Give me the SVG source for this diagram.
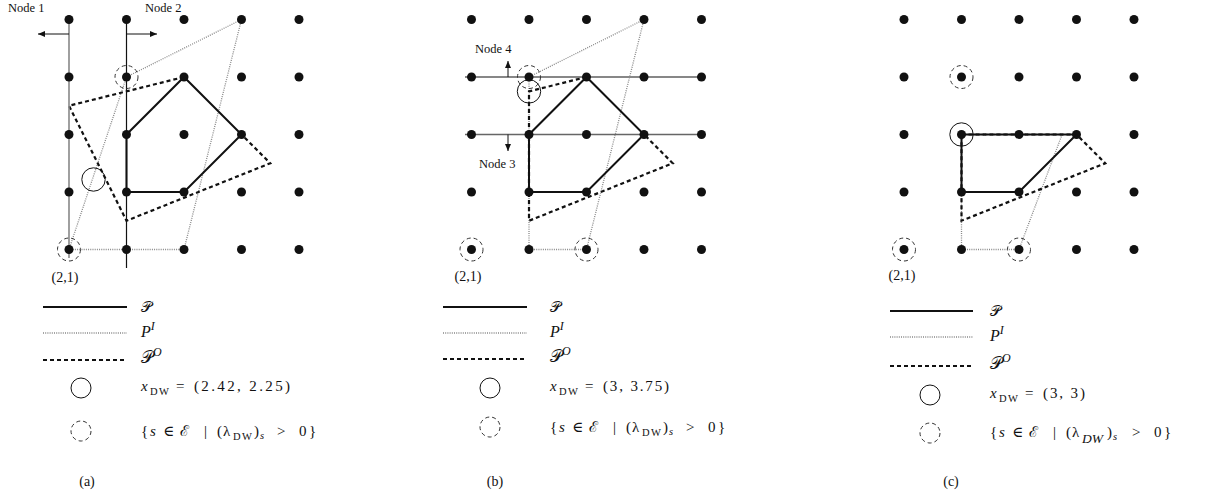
<svg xmlns="http://www.w3.org/2000/svg" width="1210" height="500" viewBox="0 0 1210 500">
<style>
text{font-family:"Liberation Serif","DejaVu Serif",serif;fill:#111}
.lbl{font-size:12.5px}
.cap{font-size:14px}
.m{font-size:15px}
.it{font-style:italic}
.sub{font-size:10.5px}
.dot{fill:#111}
.P{fill:none;stroke:#111;stroke-width:2;stroke-linejoin:miter}
.PI{fill:none;stroke:#888;stroke-width:1.3;stroke-dasharray:1 1.2}
.PO{fill:none;stroke:#111;stroke-width:2.2;stroke-dasharray:4 3}
.xc{fill:none;stroke:#111;stroke-width:1}
.lam{fill:none;stroke:#333;stroke-width:1;stroke-dasharray:4 3}
.nl{fill:none;stroke:#111;stroke-width:1.2}
.nlg{fill:none;stroke:#888;stroke-width:1.6}
.ar{fill:none;stroke:#111;stroke-width:1;marker-end:url(#ah)}
</style>
<defs>
<marker id="ah" markerUnits="userSpaceOnUse" markerWidth="8" markerHeight="6" refX="7" refY="3" orient="auto">
<path d="M0,0 L7,3 L0,6 Z" fill="#111"/>
</marker>
<g id="grid">
<circle class="dot" cx="0" cy="19.5" r="4.5"/><circle class="dot" cx="57.5" cy="19.5" r="4.5"/><circle class="dot" cx="115" cy="19.5" r="4.5"/><circle class="dot" cx="172.5" cy="19.5" r="4.5"/><circle class="dot" cx="230" cy="19.5" r="4.5"/>
<circle class="dot" cx="0" cy="77" r="4.5"/><circle class="dot" cx="57.5" cy="77" r="4.5"/><circle class="dot" cx="115" cy="77" r="4.5"/><circle class="dot" cx="172.5" cy="77" r="4.5"/><circle class="dot" cx="230" cy="77" r="4.5"/>
<circle class="dot" cx="0" cy="134.5" r="4.5"/><circle class="dot" cx="57.5" cy="134.5" r="4.5"/><circle class="dot" cx="115" cy="134.5" r="4.5"/><circle class="dot" cx="172.5" cy="134.5" r="4.5"/><circle class="dot" cx="230" cy="134.5" r="4.5"/>
<circle class="dot" cx="0" cy="192" r="4.5"/><circle class="dot" cx="57.5" cy="192" r="4.5"/><circle class="dot" cx="115" cy="192" r="4.5"/><circle class="dot" cx="172.5" cy="192" r="4.5"/><circle class="dot" cx="230" cy="192" r="4.5"/>
<circle class="dot" cx="0" cy="249.5" r="4.5"/><circle class="dot" cx="57.5" cy="249.5" r="4.5"/><circle class="dot" cx="115" cy="249.5" r="4.5"/><circle class="dot" cx="172.5" cy="249.5" r="4.5"/><circle class="dot" cx="230" cy="249.5" r="4.5"/>
</g>
</defs>

<!-- Panel (a) -->
<g id="panel-a">
<g id="a-plot" transform="translate(69,0)">
<g id="a-connectors">
<path class="PI" d="M0,249.5 L57.5,77 L172.5,19.5 L115,249.5 Z"/>
<path class="PO" d="M115,77 L0,105.75 L57.5,220.75 L201.25,163.25 L172.5,134.5"/>
<path class="P" d="M57.5,192 L57.5,134.5 L115,77 L172.5,134.5 L115,192 Z"/>
</g>
<g id="a-node1"><line class="nlg" x1="0" y1="15" x2="0" y2="258"/><line class="ar" x1="0" y1="34" x2="-31" y2="34"/></g>
<g id="a-node2"><line class="nl" x1="57.5" y1="15" x2="57.5" y2="268"/><line class="ar" x1="57.5" y1="34" x2="88" y2="34"/></g>
<use href="#grid"/>
<circle class="xc" cx="24.5" cy="179.5" r="11.7"/>
<circle class="lam" cx="57.5" cy="77" r="11.5"/>
<circle class="lam" cx="0" cy="249.5" r="11.5"/>
</g>
<text class="lbl" x="8" y="12">Node 1</text>
<text class="lbl" x="145" y="12">Node 2</text>
<text class="cap" x="65" y="282" text-anchor="middle">(2,1)</text>
<g id="a-legend">
<line class="P" x1="43" y1="307" x2="127" y2="307"/>
<line class="PI" x1="43" y1="333" x2="127" y2="333"/>
<line class="PO" x1="43" y1="360" x2="127" y2="360"/>
<circle class="xc" cx="81" cy="388" r="10"/>
<circle class="lam" cx="81" cy="431" r="10"/>
<text class="m" x="141" y="312" font-size="17">𝒫</text>
<text class="m" x="141" y="337"><tspan class="it" font-size="16">P</tspan><tspan class="it" font-size="12" dy="-7">I</tspan></text>
<text class="m" x="141" y="363"><tspan font-size="17">𝒫</tspan><tspan class="it" font-size="12" dy="-7">O</tspan></text>
<text class="m" y="391"><tspan class="it" x="141">x</tspan><tspan class="sub" x="150" dy="4" textLength="19">DW</tspan><tspan x="176" dy="-4">=</tspan><tspan x="194" textLength="96">(2.42, 2.25)</tspan></text>
<text class="m" y="436"><tspan x="141">{</tspan><tspan class="it" x="150">s</tspan><tspan x="163">∈</tspan><tspan x="180">ℰ</tspan><tspan x="204">|</tspan><tspan x="217">(</tspan><tspan x="223">λ</tspan><tspan class="sub" x="233" dy="4" textLength="19">DW</tspan><tspan x="254" dy="-4">)</tspan><tspan class="it sub" x="260" dy="3">s</tspan><tspan x="277" dy="-3">&gt;</tspan><tspan x="299">0</tspan><tspan x="309">}</tspan></text>
</g>
<text class="cap" x="87" y="486" text-anchor="middle">(a)</text>
</g>

<!-- Panel (b) -->
<g id="panel-b">
<g id="b-plot" transform="translate(471.5,0)">
<g id="b-node4"><line class="nl" x1="-6.5" y1="77" x2="231.5" y2="77" stroke="#333"/><line class="ar" x1="36.5" y1="77" x2="36.5" y2="61"/></g>
<g id="b-node3"><line class="nlg" x1="-6.5" y1="134.5" x2="231.5" y2="134.5" style="stroke:#666;stroke-width:1.3"/><line class="ar" x1="36.5" y1="134.5" x2="36.5" y2="151"/></g>
<g id="b-connectors">
<path class="PI" d="M57.5,249.5 L57.5,77 L172.5,19.5 L115,249.5 Z"/>
<path class="PO" d="M115,77 L57.5,91.4 L57.5,220.75 L201.25,163.25 L172.5,134.5"/>
<path class="P" d="M57.5,192 L57.5,134.5 L115,77 L172.5,134.5 L115,192 Z"/>
</g>
<use href="#grid"/>
<circle class="xc" cx="57.5" cy="91.4" r="11.7"/>
<circle class="lam" cx="57.5" cy="77" r="11.5"/>
<circle class="lam" cx="0" cy="249.5" r="11.5"/>
<circle class="lam" cx="115" cy="249.5" r="11.5"/>
</g>
<text class="lbl" x="475" y="53">Node 4</text>
<text class="lbl" x="479" y="168">Node 3</text>
<text class="cap" x="468" y="281" text-anchor="middle">(2,1)</text>
<g id="b-legend">
<line class="P" x1="443" y1="307" x2="527" y2="307"/>
<line class="PI" x1="443" y1="333" x2="527" y2="333"/>
<line class="PO" x1="443" y1="359" x2="527" y2="359"/>
<circle class="xc" cx="490" cy="388" r="10"/>
<circle class="lam" cx="490" cy="427" r="10"/>
<text class="m" x="550" y="312" font-size="17">𝒫</text>
<text class="m" x="550" y="337"><tspan class="it" font-size="16">P</tspan><tspan class="it" font-size="12" dy="-7">I</tspan></text>
<text class="m" x="550" y="362"><tspan font-size="17">𝒫</tspan><tspan class="it" font-size="12" dy="-7">O</tspan></text>
<text class="m" y="391"><tspan class="it" x="550">x</tspan><tspan class="sub" x="559" dy="4" textLength="19">DW</tspan><tspan x="585" dy="-4">=</tspan><tspan x="603" textLength="66">(3, 3.75)</tspan></text>
<text class="m" y="432"><tspan x="550">{</tspan><tspan class="it" x="559">s</tspan><tspan x="572">∈</tspan><tspan x="589">ℰ</tspan><tspan x="613">|</tspan><tspan x="626">(</tspan><tspan x="632">λ</tspan><tspan class="sub" x="642" dy="4" textLength="19">DW</tspan><tspan x="663" dy="-4">)</tspan><tspan class="it sub" x="669" dy="3">s</tspan><tspan x="686" dy="-3">&gt;</tspan><tspan x="708">0</tspan><tspan x="718">}</tspan></text>
</g>
<text class="cap" x="495" y="486" text-anchor="middle">(b)</text>
</g>

<!-- Panel (c) -->
<g id="panel-c">
<g id="c-plot" transform="translate(904,0)">
<g id="c-connectors">
<path class="PI" d="M57.5,249.5 L57.5,134.5 L158.1,134.5 L115,249.5 Z"/>
<path class="PO" d="M57.5,134.5 L172.5,134.5 L201.25,163.25 L57.5,220.75 Z"/>
<path class="P" d="M57.5,192 L57.5,134.5 L172.5,134.5 L115,192 Z"/>
</g>
<use href="#grid"/>
<circle class="xc" cx="57.5" cy="134.5" r="11.7"/>
<circle class="lam" cx="57.5" cy="77" r="11.5"/>
<circle class="lam" cx="0" cy="249.5" r="11.5"/>
<circle class="lam" cx="115" cy="249.5" r="11.5"/>
</g>
<text class="cap" x="902" y="280" text-anchor="middle">(2,1)</text>
<g id="c-legend">
<line class="P" x1="890" y1="311" x2="973" y2="311"/>
<line class="PI" x1="890" y1="337" x2="973" y2="337"/>
<line class="PO" x1="890" y1="366" x2="973" y2="366"/>
<circle class="xc" cx="930" cy="395" r="10"/>
<circle class="lam" cx="930" cy="433" r="10"/>
<text class="m" x="990" y="316" font-size="17">𝒫</text>
<text class="m" x="990" y="341"><tspan class="it" font-size="16">P</tspan><tspan class="it" font-size="12" dy="-7">I</tspan></text>
<text class="m" x="990" y="369"><tspan font-size="17">𝒫</tspan><tspan class="it" font-size="12" dy="-7">O</tspan></text>
<text class="m" y="398"><tspan class="it" x="990">x</tspan><tspan class="sub" x="999" dy="4" textLength="19">DW</tspan><tspan x="1025" dy="-4">=</tspan><tspan x="1043" textLength="42">(3, 3)</tspan></text>
<text class="m" y="437"><tspan x="990">{</tspan><tspan class="it" x="999">s</tspan><tspan x="1012">∈</tspan><tspan x="1029">ℰ</tspan><tspan x="1053">|</tspan><tspan x="1066">(</tspan><tspan x="1072">λ</tspan><tspan class="it" font-size="13.5" x="1082" dy="6">DW</tspan><tspan x="1107" dy="-6">)</tspan><tspan class="it sub" x="1113" dy="3">s</tspan><tspan x="1132" dy="-3">&gt;</tspan><tspan x="1154">0</tspan><tspan x="1164">}</tspan></text>
</g>
<text class="cap" x="951" y="486" text-anchor="middle">(c)</text>
</g>
</svg>
